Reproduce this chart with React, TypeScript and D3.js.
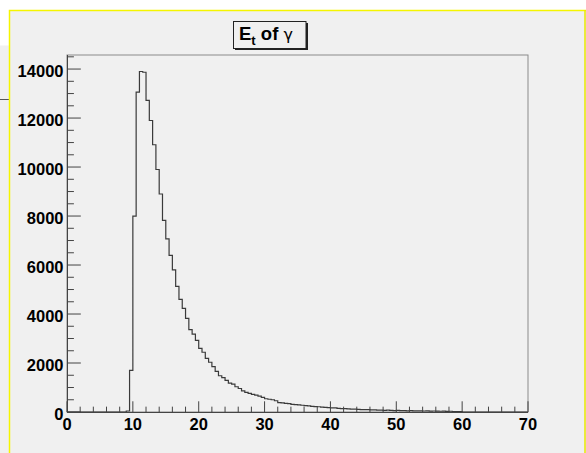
import React from "react";
import * as d3 from "d3";

// Histogram: E_t of gamma, bin width 0.5, first listed bin starts at 9.0
const BIN_WIDTH = 0.5;
const FIRST_EDGE = 9.0;
const counts: number[] = [
  40, 1700, 8000, 13060, 13900, 13870, 12720, 11900, 10910, 9900,
  8900, 7820, 7070, 6390, 5800, 5130, 4600, 4230, 3820, 3360,
  3180, 2920, 2600, 2440, 2190, 2030, 1850, 1660, 1480, 1400,
  1290, 1180, 1140, 1030, 960, 860, 800, 760, 720, 690,
  650, 600, 540, 520, 500, 460, 380, 370, 350, 340,
  310, 300, 290, 275, 260, 250, 230, 220, 215, 200,
  190, 180, 170, 165, 150, 140, 135, 130, 120, 115,
  105, 100, 95, 95, 90, 85, 80, 80, 70, 75,
  65, 60, 70, 55, 60, 50, 55, 45, 50, 45,
  40, 45, 35, 40, 35, 30, 35, 25, 30, 20,
  20, 15, 0, 0, 0, 0, 0, 0, 0, 0,
  0, 0, 0, 0, 0, 0, 0, 0, 0, 0,
  0, 0,
];
const xMajorTicks = [0, 10, 20, 30, 40, 50, 60, 70];
const yMajorTicks = [0, 2000, 4000, 6000, 8000, 10000, 12000, 14000];
const X_DOMAIN: [number, number] = [0, 70];
const Y_MAX = 14574;

export default function App() {
  const W = 586, H = 453;
  const fL = 67, fR = 528, fT = 55, fB = 412;
  const x = d3.scaleLinear().domain(X_DOMAIN).range([fL, fR]);
  const y = d3.scaleLinear().domain([0, Y_MAX]).range([fB, fT]);

  const pts: [number, number][] = [[0, 0]];
  counts.forEach((c, i) => pts.push([FIRST_EDGE + i * BIN_WIDTH, c]));
  const lastEdge = FIRST_EDGE + counts.length * BIN_WIDTH;
  pts.push([lastEdge, 0]);
  const line = d3
    .line<[number, number]>()
    .x((d) => x(d[0]))
    .y((d) => y(d[1]))
    .curve(d3.curveStepAfter);
  const histPath = line(pts) || "";

  const xMinor = d3.range(0, 70.001, 2).filter((v) => !xMajorTicks.includes(v));
  const yMinor = d3.range(0, Y_MAX, 500).filter((v) => !yMajorTicks.includes(v));
  const majX = (fB - fT) * 0.03;
  const majY = (fR - fL) * 0.03;

  const font = "'Liberation Sans', Arial, Helvetica, sans-serif";

  return (
    <svg
      width={W}
      height={H}
      style={{ position: "absolute", left: 0, top: 0, display: "block" }}
    >
      <rect x={0} y={0} width={W} height={H} fill="#ffffff" />
      {/* left background canvas fragment */}
      <rect x={0} y={45.5} width={10} height={H - 45.5} fill="#f0f0f0" />
      <line x1={0} x2={9.5} y1={99.5} y2={99.5} stroke="#555" strokeWidth={1} />
      {/* pad */}
      <rect x={9.5} y={10.5} width={W - 9.5 + 5} height={H} fill="#f0f0f0" stroke="#f5f500" strokeWidth={1.5} />
      <line x1={585} x2={585} y1={10} y2={H} stroke="#e8e800" strokeWidth={1.5} />
      {/* frame */}
      <rect x={fL} y={fT} width={fR - fL} height={fB - fT} fill="#f0f0f0" stroke="#8a8a8a" strokeWidth={1} />

      {/* histogram */}
      <path d={histPath} fill="none" stroke="#3a3a3a" strokeWidth={1.2} />

      {/* x axis */}
      <line x1={fL} x2={fR} y1={fB + 0.5} y2={fB + 0.5} stroke="#444" strokeWidth={1} />
      {xMajorTicks.map((v) => (
        <line key={"xM" + v} x1={x(v)} x2={x(v)} y1={fB} y2={fB - majX} stroke="#444" strokeWidth={1} />
      ))}
      {xMinor.map((v) => (
        <line key={"xm" + v} x1={x(v)} x2={x(v)} y1={fB} y2={fB - majX / 2} stroke="#444" strokeWidth={1} />
      ))}
      {xMajorTicks.map((v) => (
        <text
          key={"xl" + v}
          x={x(v)}
          y={fB + 18}
          textAnchor="middle"
          fontFamily={font}
          fontWeight="bold"
          fontSize={16.5}
          fill="#000"
        >
          {v}
        </text>
      ))}

      {/* y axis */}
      <line x1={fL + 0.5} x2={fL + 0.5} y1={fT} y2={fB} stroke="#444" strokeWidth={1} />
      {yMajorTicks.map((v) => (
        <line key={"yM" + v} x1={fL} x2={fL + majY} y1={y(v)} y2={y(v)} stroke="#444" strokeWidth={1} />
      ))}
      {yMinor.map((v) => (
        <line key={"ym" + v} x1={fL} x2={fL + majY / 2} y1={y(v)} y2={y(v)} stroke="#444" strokeWidth={1} />
      ))}
      {yMajorTicks.map((v) => (
        <text
          key={"yl" + v}
          x={63.5}
          y={y(v) + 7.5}
          textAnchor="end"
          fontFamily={font}
          fontWeight="bold"
          fontSize={16.5}
          fill="#000"
        >
          {v}
        </text>
      ))}

      {/* title */}
      <line x1={235} x2={308} y1={49} y2={49} stroke="#222" strokeWidth={2} />
      <line x1={307} x2={307} y1={23} y2={50} stroke="#222" strokeWidth={2} />
      <rect x={233.5} y={21.5} width={72.5} height={27} fill="#f0f0f0" stroke="#222" strokeWidth={1} />
      <text x={239} y={40} fontFamily={font} fontSize={18.5} fill="#000">
        <tspan fontWeight="bold">E</tspan>
        <tspan fontWeight="bold" fontSize={13} dy={5}>t</tspan>
        <tspan fontWeight="bold" dy={-5}> of </tspan>
        <tspan fontWeight="normal" fontFamily="'DejaVu Sans', sans-serif" fontSize={16}>γ</tspan>
      </text>
    </svg>
  );
}
